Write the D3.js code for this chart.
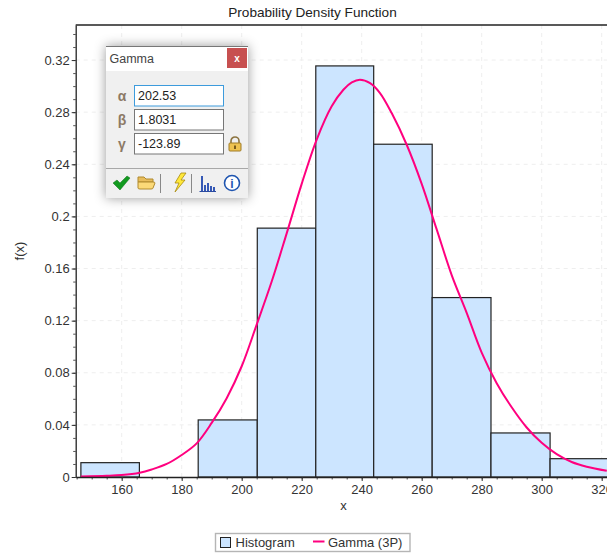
<!DOCTYPE html>
<html>
<head>
<meta charset="utf-8">
<style>
html, body { margin: 0; padding: 0; background: #fff; overflow: hidden; }
text { font-family: "Liberation Sans", Arial, sans-serif; }
</style>
<script src="https://cdn.jsdelivr.net/npm/d3@7"></script>
</head>
<body>
<div id="chart"></div>
<script>
// bins of the histogram
var binEdges = [146.4, 165.9, 185.5, 205.2, 224.7, 244.0, 263.5, 283.1, 302.8, 322.4];
var binHeights = [0.011, 0, 0.0438, 0.191, 0.3155, 0.2554, 0.1377, 0.0338, 0.01405];

// fitted curve
var curveX = [146.4, 155, 160, 166, 170, 175, 180, 185, 190, 195, 200, 205, 210, 215, 220, 225, 230, 233.9, 236.7, 239.4, 242.8, 246.1, 250, 255, 260, 265, 270, 275, 280, 285, 290, 295, 300, 305, 310, 315, 321.7];
var curveY = [0.0004, 0.0009, 0.0015, 0.0033, 0.0058, 0.01, 0.0169, 0.0258, 0.0415, 0.0605, 0.085, 0.117, 0.15, 0.187, 0.225, 0.259, 0.2845, 0.2972, 0.3028, 0.3049, 0.3023, 0.2947, 0.2793, 0.255, 0.225, 0.19, 0.155, 0.126, 0.0955, 0.072, 0.0535, 0.038, 0.0262, 0.0175, 0.0115, 0.0079, 0.0048];

var xTicks = [160, 180, 200, 220, 240, 260, 280, 300, 320];
var xMinor = d3.range(145, 325, 5);
var yTicks = [0, 0.04, 0.08, 0.12, 0.16, 0.2, 0.24, 0.28, 0.32];
var yMinor = d3.range(0, 35).map(function(i) { return i / 100; });
var legendNames = ['Histogram', 'Gamma (3P)'];
var paramNames = ['\u03b1', '\u03b2', '\u03b3'];
var paramValues = ['202.53', '1.8031', '-123.89'];

var width = 607, height = 553;
var margin = {top: 25, left: 75.7, bottom: 76};
var barFill = '#cce5ff', curveColor = '#ff007f', textColor = '#333';

var svg = d3.select('#chart').append('svg')
	.attr('width', width)
	.attr('height', height)
	.style('display', 'block');

var x = d3.scaleLinear().domain([144.67, 330]).range([margin.left, margin.left + 3 * (330 - 144.67)]);
var y = d3.scaleLinear().domain([0, 0.3469]).range([height - margin.bottom, margin.top]);

var defs = svg.append('defs');
var shadow = defs.append('filter').attr('id', 'shadow')
	.attr('x', '-20%').attr('y', '-20%').attr('width', '140%').attr('height', '140%');
shadow.append('feDropShadow')
	.attr('dx', 0).attr('dy', 0)
	.attr('stdDeviation', 6)
	.attr('flood-color', '#000')
	.attr('flood-opacity', 0.4);

// grid
var grid = svg.append('g')
	.attr('stroke', '#eee')
	.attr('stroke-dasharray', '4,4');
grid.selectAll('.gx').data(xTicks).enter().append('line')
	.attr('x1', function(d) { return x(d); })
	.attr('x2', function(d) { return x(d); })
	.attr('y1', y(0))
	.attr('y2', margin.top);
grid.selectAll('.gy').data(yTicks.slice(1)).enter().append('line')
	.attr('x1', margin.left)
	.attr('x2', width)
	.attr('y1', function(d) { return y(d); })
	.attr('y2', function(d) { return y(d); });

// histogram
var bins = d3.range(binHeights.length).filter(function(i) { return binHeights[i] > 0; });
svg.append('g').selectAll('rect').data(bins).enter().append('rect')
	.attr('x', function(i) { return x(binEdges[i]); })
	.attr('y', function(i) { return y(binHeights[i]); })
	.attr('width', function(i) { return x(binEdges[i + 1]) - x(binEdges[i]); })
	.attr('height', function(i) { return y(0) - y(binHeights[i]); })
	.attr('fill', barFill)
	.attr('stroke', '#222')
	.attr('stroke-width', 1.2);

// curve
var line = d3.line()
	.x(function(d) { return x(d); })
	.y(function(d, i) { return y(curveY[i]); })
	.curve(d3.curveCatmullRom);
svg.append('path')
	.datum(curveX)
	.attr('fill', 'none')
	.attr('stroke', curveColor)
	.attr('stroke-width', 2)
	.attr('stroke-linejoin', 'round')
	.attr('d', line);

// axes
function styleAxis(g) {
	g.selectAll('text')
		.attr('font-size', 13)
		.attr('font-family', '"Liberation Sans", Arial, sans-serif')
		.attr('fill', textColor);
	g.selectAll('line').attr('stroke', '#333');
	g.select('.domain').attr('stroke', '#222').attr('stroke-width', 1.3);
}
var xAxisMinor = svg.append('g')
	.attr('transform', 'translate(0,' + y(0) + ')')
	.call(d3.axisBottom(x).tickValues(xMinor).tickSize(2.5).tickFormat(''));
xAxisMinor.select('.domain').remove();
xAxisMinor.selectAll('line').attr('stroke', '#555');
var yAxisMinor = svg.append('g')
	.attr('transform', 'translate(' + margin.left + ',0)')
	.call(d3.axisLeft(y).tickValues(yMinor).tickSize(2.5).tickFormat(''));
yAxisMinor.select('.domain').remove();
yAxisMinor.selectAll('line').attr('stroke', '#555');

svg.append('g')
	.attr('transform', 'translate(0,' + y(0) + ')')
	.call(d3.axisBottom(x).tickValues(xTicks).tickSize(4).tickSizeOuter(0).tickPadding(4).tickFormat(d3.format('d')))
	.call(styleAxis);
svg.append('g')
	.attr('transform', 'translate(' + margin.left + ',0)')
	.call(d3.axisLeft(y).tickValues(yTicks).tickSize(4).tickSizeOuter(0).tickPadding(2).tickFormat(function(d) { return String(+d.toFixed(2)); }))
	.call(styleAxis);
svg.append('line')
	.attr('x1', margin.left).attr('x2', width)
	.attr('y1', margin.top).attr('y2', margin.top)
	.attr('stroke', '#222').attr('stroke-width', 1.3);

// titles
svg.append('text').attr('x', 312.5).attr('y', 17)
	.attr('text-anchor', 'middle').attr('font-size', 13.6).attr('fill', '#222')
	.text('Probability Density Function');
svg.append('text').attr('x', 343.5).attr('y', 510)
	.attr('text-anchor', 'middle').attr('font-size', 13).attr('fill', textColor)
	.text('x');
svg.append('text').attr('transform', 'translate(24,251) rotate(-90)')
	.attr('text-anchor', 'middle').attr('font-size', 13).attr('fill', textColor)
	.text('f(x)');

// legend
var legend = svg.append('g');
legend.append('rect').attr('x', 215.5).attr('y', 533.5).attr('width', 194.5).attr('height', 18)
	.attr('fill', '#fff').attr('stroke', '#b5b5b5').attr('stroke-width', 1.4);
legend.append('rect').attr('x', 220.5).attr('y', 537.5).attr('width', 10).attr('height', 10)
	.attr('fill', barFill).attr('stroke', '#222');
legend.append('text').attr('x', 235.5).attr('y', 547).attr('font-size', 13).attr('fill', textColor)
	.text(legendNames[0]);
legend.append('line').attr('x1', 313).attr('x2', 324.5).attr('y1', 541.5).attr('y2', 541.5)
	.attr('stroke', curveColor).attr('stroke-width', 2);
legend.append('text').attr('x', 328).attr('y', 547).attr('font-size', 13).attr('fill', textColor)
	.text(legendNames[1]);

// floating parameter window
var win = svg.append('g').attr('transform', 'translate(106,46)');
win.append('rect').attr('width', 142).attr('height', 152)
	.attr('fill', '#f0f0f0').attr('filter', 'url(#shadow)');
win.append('rect').attr('width', 142).attr('height', 25).attr('fill', '#fff');
win.append('line').attr('x1', 0).attr('x2', 142).attr('y1', 0.5).attr('y2', 0.5).attr('stroke', '#777');
win.append('text').attr('x', 3.5).attr('y', 17).attr('font-size', 12.5)
	.attr('font-family', '"Open Sans", sans-serif').attr('fill', '#444').text('Gamma');
win.append('rect').attr('x', 121).attr('y', 2).attr('width', 20).attr('height', 20).attr('fill', '#c75050');
win.append('text').attr('x', 131).attr('y', 15.5).attr('text-anchor', 'middle')
	.attr('font-size', 10).attr('font-weight', 'bold').attr('fill', '#fff').text('x');

var rowTop = [39, 63, 87];
paramValues.forEach(function(v, i) {
	win.append('rect').attr('x', 28.5).attr('y', rowTop[i] + 0.5).attr('width', 89).attr('height', 20.5)
		.attr('fill', '#fff').attr('stroke', i == 0 ? '#3d9bdc' : '#777').attr('stroke-width', 1);
	win.append('text').attr('x', 32).attr('y', rowTop[i] + 15).attr('font-size', 12.5).attr('fill', '#222').text(v);
	win.append('text').attr('x', 16).attr('y', rowTop[i] + 16).attr('text-anchor', 'middle')
		.attr('font-family', '"DejaVu Serif", serif').attr('font-size', 14).attr('font-weight', 'bold')
		.attr('fill', '#8c7a66').text(paramNames[i]);
});

// lock icon
var lock = win.append('g').attr('transform', 'translate(122,91)');
lock.append('path').attr('d', 'M3 6V4a4 4 0 0 1 8 0v2').attr('fill', 'none').attr('stroke', '#8c7440').attr('stroke-width', 1.6);
lock.append('rect').attr('x', 1).attr('y', 6).attr('width', 12).attr('height', 8).attr('rx', 1)
	.attr('fill', '#eec250').attr('stroke', '#a07c28');
lock.append('rect').attr('x', 6.2).attr('y', 8.5).attr('width', 1.6).attr('height', 3.5).attr('fill', '#5b4310');

win.append('line').attr('x1', 0).attr('x2', 142).attr('y1', 122.5).attr('y2', 122.5).attr('stroke', '#a8a8a8');
[54.5, 85.5].forEach(function(sx) {
	win.append('line').attr('x1', sx).attr('x2', sx).attr('y1', 128).attr('y2', 147).attr('stroke', '#888');
});

// toolbar icons
win.append('path').attr('d', 'M7 137l4-3 3 3 7-7 3 2-10 12z').attr('fill', '#129a1f').attr('stroke', '#0b6d15').attr('stroke-width', 0.5);
win.append('path').attr('d', 'M32 131h6l2 2h7v3h-15z').attr('fill', '#e8bd5c').attr('stroke', '#b08a2e');
win.append('path').attr('d', 'M32 136h15q2 0 2 1l-2 5q0 1-2 1h-11q-2 0-2-1z').attr('fill', '#fbd978').attr('stroke', '#b08a2e');
win.append('path').attr('d', 'M75 127l-6 10h4l-4 9 10-12h-4l5-7z').attr('fill', '#ffe83a').attr('stroke', '#a88a12').attr('stroke-width', 0.8);
var iconBars = [15, 6, 8, 5, 4];
iconBars.forEach(function(h, i) {
	win.append('rect').attr('x', 95 + i * 3).attr('y', 145 - h).attr('width', 2).attr('height', h).attr('fill', '#3558b5');
});
win.append('line').attr('x1', 93.5).attr('x2', 110).attr('y1', 145.5).attr('y2', 145.5).attr('stroke', '#2a4aa0');
win.append('circle').attr('cx', 126).attr('cy', 137).attr('r', 7.5).attr('fill', '#fff').attr('stroke', '#1f55b0').attr('stroke-width', 1.6);
win.append('text').attr('x', 126).attr('y', 142).attr('text-anchor', 'middle')
	.attr('font-family', '"DejaVu Serif", serif').attr('font-size', 12).attr('font-weight', 'bold').attr('fill', '#1f55b0').text('i');
</script>
</body>
</html>
